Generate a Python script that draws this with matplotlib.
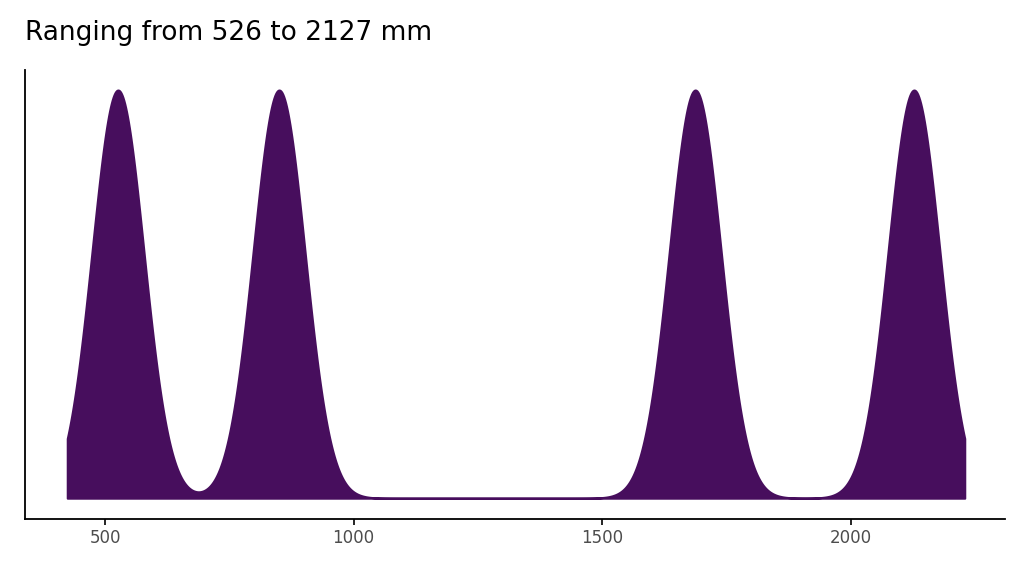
import numpy as np
import matplotlib
matplotlib.use("Agg")
import matplotlib.pyplot as plt

values = [526, 850, 1687, 2127]
bw = 52
title = "Ranging from 526 to 2127 mm"
xticks = [500, 1000, 1500, 2000]

v = np.array(values, float)
x = np.linspace(v.min() - 102, v.max() + 102, 1000)
d = np.exp(-(x[:, None] - v[None, :])**2 / (2 * bw**2)).sum(axis=1)
d = d / d.max()

fig = plt.figure(figsize=(10.24, 5.76), dpi=100)
ax = fig.add_axes([25/1024, 1 - 519/576, 980/1024, 449/576])
ax.fill_between(x, 0, d, color="#470E5D", linewidth=1.5, edgecolor="#470E5D")
ax.set_xlim(339, 2310)
ax.set_ylim(-0.051, 1.049)
ax.set_yticks([])
ax.set_xticks(xticks)
ax.tick_params(axis="x", labelsize=12, colors="#4d4d4d", length=4, width=1.2)
ax.tick_params(axis="x", color="black")
for s in ["top", "right"]:
    ax.spines[s].set_visible(False)
for s in ["left", "bottom"]:
    ax.spines[s].set_linewidth(1.3)
fig.text(25/1024, 1 - 33/576, title, fontsize=19, va="center", ha="left")
fig.savefig("out.png")
